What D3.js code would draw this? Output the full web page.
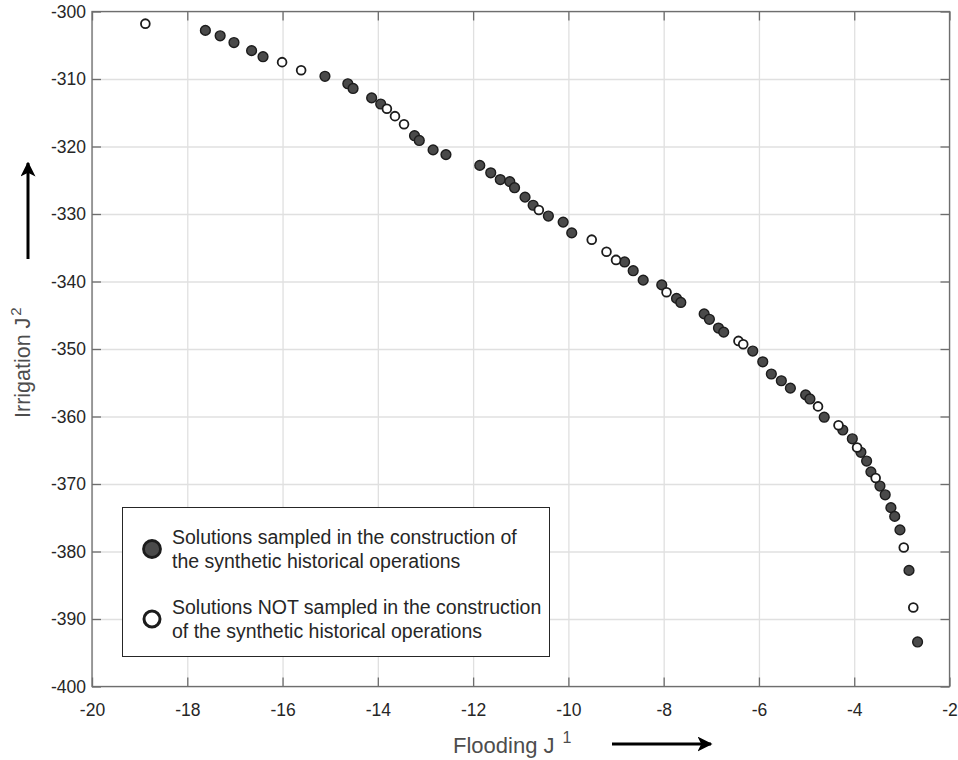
<!DOCTYPE html>
<html>
<head>
<meta charset="utf-8">
<script src="https://cdn.jsdelivr.net/npm/d3@7"></script>
<style>
  html, body { margin: 0; padding: 0; background: #fff; }
  svg { display: block; font-family: "Liberation Sans", Arial, Helvetica, sans-serif; }
</style>
</head>
<body>
<svg id="chart" width="958" height="760"></svg>
<script>
// ---- Data ----
const xTicks = [-20, -18, -16, -14, -12, -10, -8, -6, -4, -2];
const yTicks = [-400, -390, -380, -370, -360, -350, -340, -330, -320, -310, -300];
const xLabel = "Flooding J";
const xLabelSup = "1";
const yLabel = "Irrigation J";
const yLabelSup = "2";
const legendSampled = ["Solutions sampled in the construction of", "the synthetic historical operations"];
const legendNotSampled = ["Solutions NOT sampled in the construction", "of the synthetic historical operations"];

// Sampled solutions (filled markers): [flooding, irrigation]
const sampledFlooding = [-17.62,-17.31,-17.02,-16.65,-16.41,-15.11,-14.63,-14.52,-14.13,-13.94,-13.23,-13.13,-12.84,-12.57,-11.86,-11.63,-11.43,-11.23,-11.13,-10.91,-10.74,-10.42,-10.11,-9.93,-8.82,-8.64,-8.43,-8.04,-7.73,-7.64,-7.15,-7.04,-6.85,-6.74,-6.13,-5.92,-5.74,-5.53,-5.34,-5.02,-4.93,-4.63,-4.24,-4.04,-3.86,-3.74,-3.65,-3.46,-3.35,-3.23,-3.15,-3.04,-2.85,-2.67];
const sampledIrrigation = [-302.8,-303.6,-304.6,-305.8,-306.7,-309.6,-310.7,-311.4,-312.8,-313.7,-318.4,-319.1,-320.5,-321.2,-322.8,-323.9,-324.9,-325.2,-326.1,-327.5,-328.7,-330.3,-331.2,-332.8,-337.1,-338.4,-339.8,-340.5,-342.5,-343.1,-344.8,-345.6,-346.9,-347.5,-350.3,-351.9,-353.7,-354.7,-355.8,-356.8,-357.4,-360.1,-362.0,-363.3,-365.3,-366.6,-368.2,-370.3,-371.6,-373.5,-374.8,-376.8,-382.8,-393.4];

// Not sampled solutions (open markers)
const notSampledFlooding = [-18.88,-16.01,-15.61,-13.81,-13.64,-13.45,-10.62,-9.51,-9.20,-9.00,-7.94,-6.43,-6.33,-4.76,-4.33,-3.94,-3.55,-2.96,-2.76];
const notSampledIrrigation = [-301.8,-307.5,-308.7,-314.4,-315.5,-316.7,-329.4,-333.8,-335.6,-336.8,-341.6,-348.8,-349.3,-358.5,-361.3,-364.6,-369.1,-379.4,-388.3];

// ---- Layout ----
const svg = d3.select("#chart");
const L = 92, R = 949.5, T = 11.5, B = 686.5;
const textColor = "#262626";
const axisColor = "#6e6e6e";
const gridColor = "#e0e0e0";
const labelColor = "#4d4d4d";

const x = d3.scaleLinear().domain([-20, -2]).range([L, R]);
const y = d3.scaleLinear().domain([-400, -300]).range([B, T]);

// Grid
svg.append("g").attr("transform", `translate(0,${B})`)
  .call(d3.axisBottom(x).tickValues(xTicks).tickSize(-(B - T)).tickFormat(""))
  .call(g => g.select(".domain").remove())
  .call(g => g.selectAll("line").attr("stroke", gridColor).attr("stroke-width", 1.3));
svg.append("g").attr("transform", `translate(${L},0)`)
  .call(d3.axisLeft(y).tickValues(yTicks).tickSize(-(R - L)).tickFormat(""))
  .call(g => g.select(".domain").remove())
  .call(g => g.selectAll("line").attr("stroke", gridColor).attr("stroke-width", 1.3));

// Box
svg.append("rect").attr("x", L).attr("y", T).attr("width", R - L).attr("height", B - T)
  .attr("fill", "none").attr("stroke", axisColor).attr("stroke-width", 1.3);

const tl = 9;
// Bottom axis with ticks inward
const gx = svg.append("g").attr("transform", `translate(0,${B})`)
  .call(d3.axisBottom(x).tickValues(xTicks).tickSize(-tl).tickPadding(17).tickFormat(d => d));
gx.select(".domain").remove();
gx.selectAll("line").attr("stroke", axisColor).attr("stroke-width", 1.3);
gx.selectAll("text").attr("fill", textColor).attr("font-size", 17.5).attr("font-family", "Liberation Sans, Arial, sans-serif");
// Top ticks
svg.append("g").attr("transform", `translate(0,${T})`)
  .call(d3.axisTop(x).tickValues(xTicks).tickSize(-tl).tickFormat(""))
  .call(g => g.select(".domain").remove())
  .call(g => g.selectAll("line").attr("stroke", axisColor).attr("stroke-width", 1.3));
// Left axis
const gy = svg.append("g").attr("transform", `translate(${L},0)`)
  .call(d3.axisLeft(y).tickValues(yTicks).tickSize(-tl).tickPadding(6).tickFormat(d => d));
gy.select(".domain").remove();
gy.selectAll("line").attr("stroke", axisColor).attr("stroke-width", 1.3);
gy.selectAll("text").attr("fill", textColor).attr("font-size", 17.5).attr("font-family", "Liberation Sans, Arial, sans-serif");
// Right ticks
svg.append("g").attr("transform", `translate(${R},0)`)
  .call(d3.axisRight(y).tickValues(yTicks).tickSize(-tl).tickFormat(""))
  .call(g => g.select(".domain").remove())
  .call(g => g.selectAll("line").attr("stroke", axisColor).attr("stroke-width", 1.3));

// Points
const sampled = sampledFlooding.map((v, i) => ({ x: v, y: sampledIrrigation[i] }));
const notSampled = notSampledFlooding.map((v, i) => ({ x: v, y: notSampledIrrigation[i] }));

svg.append("g").selectAll("circle").data(sampled).join("circle")
  .attr("cx", d => x(d.x)).attr("cy", d => y(d.y)).attr("r", 4.9)
  .attr("fill", "#4a4a4a").attr("stroke", "#1c1c1c").attr("stroke-width", 1.4);
svg.append("g").selectAll("circle").data(notSampled).join("circle")
  .attr("cx", d => x(d.x)).attr("cy", d => y(d.y)).attr("r", 4.4)
  .attr("fill", "#fff").attr("stroke", "#1c1c1c").attr("stroke-width", 1.8);

// Axis labels
const xl = svg.append("text").attr("x", 453).attr("y", 753).attr("text-anchor", "start")
  .attr("fill", labelColor).attr("font-size", 22);
xl.append("tspan").text(xLabel);
xl.append("tspan").attr("dx", 8).attr("dy", -10).attr("font-size", 16).text(xLabelSup);

const yl = svg.append("text").attr("transform", "translate(30,418) rotate(-90)")
  .attr("text-anchor", "start").attr("fill", labelColor).attr("font-size", 21.5);
yl.append("tspan").text(yLabel);
yl.append("tspan").attr("dx", 2).attr("dy", -9).attr("font-size", 15).text(yLabelSup);

// Arrows
const defs = svg.append("defs");
defs.append("marker").attr("id", "ah").attr("viewBox", "0 0 10 10").attr("refX", 9).attr("refY", 5)
  .attr("markerWidth", 5).attr("markerHeight", 5).attr("markerUnits", "strokeWidth").attr("orient", "auto")
  .append("path").attr("d", "M0,0 L10,5 L0,10 L2.5,5 Z").attr("fill", "#000");
svg.append("line").attr("x1", 28).attr("y1", 259).attr("x2", 28).attr("y2", 163)
  .attr("stroke", "#000").attr("stroke-width", 3).attr("marker-end", "url(#ah)");
svg.append("line").attr("x1", 612).attr("y1", 744).attr("x2", 711).attr("y2", 744)
  .attr("stroke", "#000").attr("stroke-width", 3).attr("marker-end", "url(#ah)");

// Legend
const lg = svg.append("g");
lg.append("rect").attr("x", 122.5).attr("y", 507.5).attr("width", 427).attr("height", 149)
  .attr("fill", "#fff").attr("stroke", "#262626").attr("stroke-width", 1);
lg.append("circle").attr("cx", 152).attr("cy", 549).attr("r", 8.5)
  .attr("fill", "#4a4a4a").attr("stroke", "#1c1c1c").attr("stroke-width", 2.8);
lg.append("circle").attr("cx", 152).attr("cy", 619).attr("r", 8)
  .attr("fill", "#fff").attr("stroke", "#1c1c1c").attr("stroke-width", 3);
const legendLines = [
  { t: legendSampled[0], y: 544 }, { t: legendSampled[1], y: 568 },
  { t: legendNotSampled[0], y: 614 }, { t: legendNotSampled[1], y: 638 }
];
lg.selectAll("text.lt").data(legendLines).join("text").attr("class", "lt")
  .attr("x", 172).attr("y", d => d.y).attr("fill", textColor).attr("font-size", 19.5).text(d => d.t);
</script>
</body>
</html>
